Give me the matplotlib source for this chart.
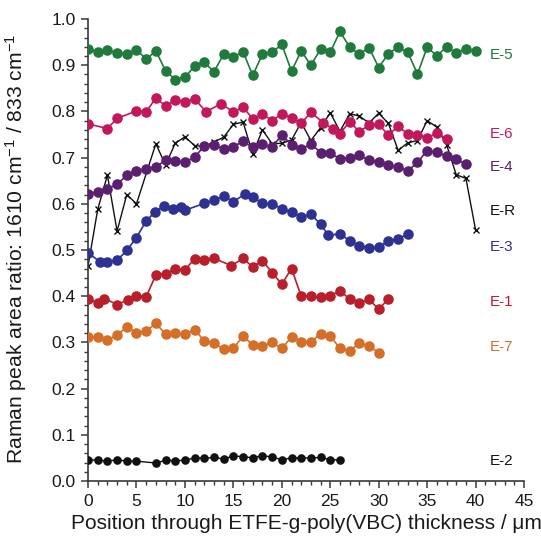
import matplotlib
matplotlib.use("Agg")
import matplotlib.pyplot as plt
from matplotlib.ticker import MultipleLocator

plt.rcParams['font.family'] = ['Liberation Sans', 'DejaVu Sans']
plt.rcParams['mathtext.default'] = 'regular'

# Raman peak area ratio profiles across the membrane thickness (um)
x_e5 = list(range(0, 41))
v_e5 = [0.936, 0.928, 0.934, 0.926, 0.924, 0.934, 0.913, 0.931, 0.888, 0.869,
        0.874, 0.898, 0.906, 0.886, 0.924, 0.918, 0.929, 0.878, 0.924, 0.928,
        0.945, 0.887, 0.931, 0.900, 0.935, 0.928, 0.973, 0.939, 0.924, 0.938,
        0.895, 0.925, 0.939, 0.928, 0.881, 0.939, 0.920, 0.940, 0.926, 0.935, 0.930]

x_e6 = [0, 2, 3, 5, 6, 7, 8, 9, 10, 11,
        12.2, 13.7, 15, 16, 17, 18, 19, 20, 21, 22,
        23, 24.3, 25.3, 26, 27, 28, 29, 30, 31, 32,
        33, 34, 35, 36, 37]
v_e6 = [0.773, 0.763, 0.785, 0.801, 0.799, 0.829, 0.812, 0.825, 0.820, 0.827,
        0.799, 0.817, 0.799, 0.809, 0.784, 0.794, 0.780, 0.795, 0.786, 0.774,
        0.798, 0.775, 0.762, 0.752, 0.778, 0.756, 0.771, 0.772, 0.749, 0.768,
        0.751, 0.750, 0.743, 0.753, 0.741]

x_e4 = list(range(0, 40))
v_e4 = [0.621, 0.626, 0.633, 0.642, 0.662, 0.672, 0.676, 0.680, 0.694, 0.692,
        0.690, 0.701, 0.725, 0.727, 0.719, 0.724, 0.735, 0.722, 0.729, 0.723,
        0.749, 0.728, 0.718, 0.730, 0.711, 0.709, 0.698, 0.699, 0.705, 0.694,
        0.690, 0.683, 0.680, 0.671, 0.690, 0.715, 0.712, 0.703, 0.696, 0.686]

x_er = [0, 1, 2, 3, 4, 5] + list(range(7, 41))
v_er = [0.465, 0.588, 0.662, 0.541, 0.620, 0.600,
        0.730, 0.684, 0.731, 0.745, 0.726, 0.724, 0.734, 0.744, 0.772, 0.777,
        0.708, 0.760, 0.730, 0.731, 0.738, 0.776, 0.737, 0.765, 0.797, 0.757,
        0.795, 0.790, 0.775, 0.796, 0.774, 0.716, 0.732, 0.737, 0.780, 0.766,
        0.728, 0.663, 0.655, 0.543]

x_e3 = [0, 1.2, 2, 3, 4, 5, 6, 6.9, 7.8, 8.8,
        9.6, 10, 12, 13, 14, 15, 16.2, 17, 18, 19,
        20, 21, 22, 23, 24, 24.8, 26, 27, 28, 29,
        30, 31, 32, 33]
v_e3 = [0.494, 0.475, 0.475, 0.478, 0.499, 0.527, 0.563, 0.582, 0.596, 0.588,
        0.594, 0.586, 0.601, 0.608, 0.616, 0.605, 0.621, 0.615, 0.601, 0.600,
        0.589, 0.582, 0.571, 0.577, 0.556, 0.532, 0.535, 0.520, 0.509, 0.505,
        0.506, 0.520, 0.524, 0.535]

x_e1 = [0, 1, 1.7, 3, 4.1, 5, 6, 7, 8, 9,
        10, 11, 12, 13, 14.8, 16, 17, 18, 19, 20,
        21, 22, 23, 24, 25, 26, 27, 28, 29, 30, 31]
v_e1 = [0.394, 0.386, 0.395, 0.382, 0.392, 0.401, 0.399, 0.446, 0.449, 0.459,
        0.457, 0.481, 0.478, 0.482, 0.466, 0.482, 0.463, 0.477, 0.451, 0.426,
        0.460, 0.400, 0.400, 0.398, 0.401, 0.412, 0.394, 0.385, 0.393, 0.372, 0.394]

x_e7 = list(range(0, 31))
v_e7 = [0.312, 0.311, 0.305, 0.316, 0.333, 0.321, 0.325, 0.341, 0.318, 0.321,
        0.318, 0.327, 0.304, 0.298, 0.286, 0.287, 0.314, 0.294, 0.293, 0.300,
        0.287, 0.312, 0.302, 0.302, 0.318, 0.314, 0.287, 0.282, 0.298, 0.292, 0.278]

x_e2 = [0, 1, 2, 3, 4, 5] + list(range(7, 27))
v_e2 = [0.046, 0.045, 0.043, 0.046, 0.043, 0.043,
        0.039, 0.045, 0.044, 0.045, 0.050, 0.049, 0.051, 0.048, 0.054, 0.053,
        0.050, 0.055, 0.052, 0.046, 0.050, 0.050, 0.050, 0.051, 0.046, 0.046]

# sample label -> (colour, label y position)
labels = ['E-5', 'E-6', 'E-4', 'E-R', 'E-3', 'E-1', 'E-7', 'E-2']
label_y = [0.922, 0.751, 0.680, 0.584, 0.507, 0.388, 0.291, 0.043]
colors = ['#1f7a3c', '#c2185b', '#5b1f70', '#111111', '#2d3192', '#b81f2a', '#d56f28', '#111111']

fig = plt.figure(figsize=(5.41, 5.42), dpi=100)
ax = fig.add_axes([0.1627, 0.1125, 0.806, 0.8524])

# reference sample drawn underneath
ax.plot(x_er, v_er, color='#111111', lw=1.0, marker='x', ms=5, mew=1.0, zorder=2)

circ = dict(marker='o', ms=7.6, lw=1.2, mew=0, zorder=3)
ax.plot(x_e5, v_e5, color=colors[0], **circ)
ax.plot(x_e6, v_e6, color=colors[1], **circ)
ax.plot(x_e4, v_e4, color=colors[2], **circ)
ax.plot(x_e3, v_e3, color=colors[4], **circ)
ax.plot(x_e1, v_e1, color=colors[5], **circ)
ax.plot(x_e7, v_e7, color=colors[6], **circ)
ax.plot(x_e2, v_e2, color=colors[7], marker='o', ms=6.2, lw=1.0, mew=0, zorder=3)

for name, y, c in zip(labels, label_y, colors):
    ax.text(41.5, y, name, color=c, fontsize=11, va='center', ha='left')

ax.set_xlim(0, 45)
ax.set_ylim(0, 1.0)
ax.xaxis.set_major_locator(MultipleLocator(5))
ax.xaxis.set_minor_locator(MultipleLocator(1))
ax.yaxis.set_major_locator(MultipleLocator(0.1))
ax.yaxis.set_minor_locator(MultipleLocator(0.02))
ax.yaxis.set_major_formatter(lambda v, pos: f'{v:.1f}')

for side in ['top', 'right']:
    ax.spines[side].set_visible(False)
for side in ['left', 'bottom']:
    ax.spines[side].set_color('#3a3a3a')
    ax.spines[side].set_linewidth(1.2)

ax.tick_params(which='major', direction='out', length=5, width=1.1, color='#3a3a3a',
               labelsize=12.5, labelcolor='#1a1a1a', pad=4)
ax.tick_params(which='minor', direction='out', length=3, width=1.0, color='#3a3a3a')

ax.set_xlabel('Position through ETFE-g-poly(VBC) thickness / μm', fontsize=15,
              color='#1a1a1a', labelpad=4)
ax.set_ylabel('Raman peak area ratio: 1610 cm$^{-1}$ / 833 cm$^{-1}$', fontsize=15.2,
              color='#1a1a1a')
ax.yaxis.set_label_coords(-0.135, 0.503)

fig.savefig('out.png', dpi=100)
